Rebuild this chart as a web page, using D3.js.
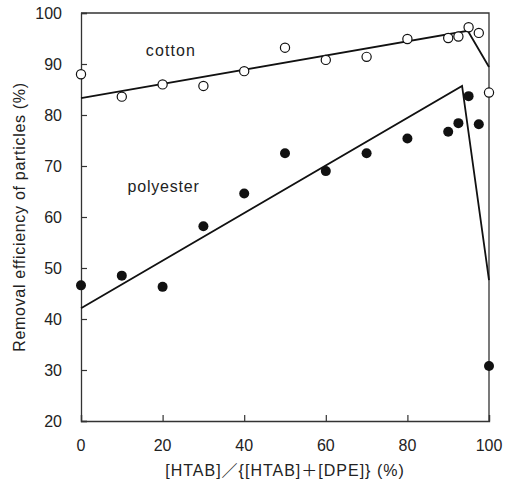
<!DOCTYPE html>
<html>
<head>
<meta charset="utf-8">
<script src="https://cdn.jsdelivr.net/npm/d3@7"></script>
<style>
  html, body { margin: 0; padding: 0; background: #fff; }
  svg text { font-family: "Liberation Sans", Arial, "Noto Sans CJK JP", sans-serif; fill: #222; }
</style>
</head>
<body>
<svg id="chart" width="510" height="483"></svg>
<script>
// ---- data ----
const xCotton = [0, 10, 20, 30, 40, 50, 60, 70, 80, 90, 92.5, 95, 97.5, 100];
const yCotton = [88.0, 83.6, 86.0, 85.7, 88.6, 93.2, 90.8, 91.4, 94.9, 95.1, 95.4, 97.2, 96.1, 84.4];
const xPoly = [0, 10, 20, 30, 40, 50, 60, 70, 80, 90, 92.5, 95, 97.5, 100];
const yPoly = [46.6, 48.5, 46.3, 58.2, 64.6, 72.5, 69.0, 72.5, 75.4, 76.7, 78.4, 83.7, 78.2, 30.8];
const xCottonFit = [0, 94.8, 100];
const yCottonFit = [83.3, 96.5, 89.4];
const xPolyFit = [0, 93.4, 100];
const yPolyFit = [42.1, 85.7, 47.6];
const xTicks = [0, 20, 40, 60, 80, 100];
const yTicks = [20, 30, 40, 50, 60, 70, 80, 90, 100];
const xTitle = "[HTAB]／{[HTAB]＋[DPE]} (%)";
const yTitle = "Removal efficiency of particles (%)";
const seriesNames = ["cotton", "polyester"];

// ---- layout ----
const W = 510, H = 483;
const margin = {left: 81, right: 21, top: 13, bottom: 62};
const svg = d3.select("#chart");
const x = d3.scaleLinear().domain([0, 100]).range([margin.left, W - margin.right]);
const y = d3.scaleLinear().domain([20, 100]).range([H - margin.bottom, margin.top]);

const axisColor = "#333";

// frame (top & right)
svg.append("path")
  .attr("d", `M${x(0)},${y(100)}H${x(100)}V${y(20)}`)
  .attr("fill", "none").attr("stroke", axisColor).attr("stroke-width", 1.3);

// left axis: inward ticks
const yAxis = d3.axisRight(y).tickValues(yTicks).tickSize(6).tickFormat("");
const gy = svg.append("g").attr("transform", `translate(${x(0)},0)`).call(yAxis);
gy.select(".domain").attr("stroke", axisColor).attr("stroke-width", 1.3);
gy.selectAll(".tick line").attr("stroke", axisColor).attr("stroke-width", 1.2);
// y tick labels
svg.append("g").selectAll("text").data(yTicks).join("text")
  .attr("x", x(0) - 19).attr("y", d => y(d))
  .attr("dy", "0.36em").attr("text-anchor", "end")
  .attr("font-size", 16).text(d => d);

// bottom axis: inward ticks
const xAxis = d3.axisTop(x).tickValues(xTicks).tickSize(6).tickFormat("");
const gx = svg.append("g").attr("transform", `translate(0,${y(20)})`).call(xAxis);
gx.select(".domain").attr("stroke", axisColor).attr("stroke-width", 1.3);
gx.selectAll(".tick line").attr("stroke", axisColor).attr("stroke-width", 1.2);
svg.append("g").selectAll("text").data(xTicks).join("text")
  .attr("x", d => x(d)).attr("y", y(20) + 30)
  .attr("text-anchor", "middle")
  .attr("font-size", 16).text(d => d);

// axis titles
svg.append("text")
  .attr("x", (x(0) + x(100)) / 2).attr("y", 476)
  .attr("text-anchor", "middle").attr("font-size", 16)
  .attr("letter-spacing", 1)
  .text(xTitle);
svg.append("text")
  .attr("transform", `translate(25,${(y(20) + y(100)) / 2}) rotate(-90)`)
  .attr("text-anchor", "middle").attr("font-size", 16)
  .attr("letter-spacing", 0.7)
  .text(yTitle);

// fit lines
const line = d3.line().x(d => x(d[0])).y(d => y(d[1]));
svg.append("path").datum(d3.zip(xCottonFit, yCottonFit))
  .attr("d", line).attr("fill", "none").attr("stroke", "#111").attr("stroke-width", 1.8);
svg.append("path").datum(d3.zip(xPolyFit, yPolyFit))
  .attr("d", line).attr("fill", "none").attr("stroke", "#111").attr("stroke-width", 1.8);

// points
svg.append("g").selectAll("circle").data(d3.zip(xCotton, yCotton)).join("circle")
  .attr("cx", d => x(d[0])).attr("cy", d => y(d[1])).attr("r", 4.6)
  .attr("fill", "#fff").attr("stroke", "#111").attr("stroke-width", 1.2);
svg.append("g").selectAll("circle").data(d3.zip(xPoly, yPoly)).join("circle")
  .attr("cx", d => x(d[0])).attr("cy", d => y(d[1])).attr("r", 5)
  .attr("fill", "#111");

// series labels
svg.append("text").attr("x", x(15.9)).attr("y", y(91.6))
  .attr("font-size", 16).attr("letter-spacing", 1.1).text(seriesNames[0]);
svg.append("text").attr("x", x(11.4)).attr("y", y(65.0))
  .attr("font-size", 16).attr("letter-spacing", 0.8).text(seriesNames[1]);
</script>
</body>
</html>
